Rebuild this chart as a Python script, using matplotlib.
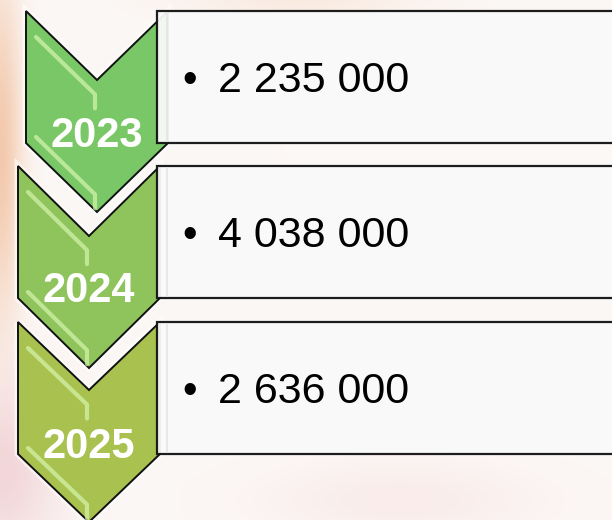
"""Vertical chevron list: yearly totals."""

import numpy as np
import matplotlib.pyplot as plt
from matplotlib.patches import Polygon, Rectangle

# Data
years = ["2023", "2024", "2025"]
values = ["2 235 000", "4 038 000", "2 636 000"]
chevron_colors = ["#79C766", "#8EC45B", "#A9C14E"]

W, H = 612, 520

fig = plt.figure(figsize=(W / 100, H / 100), dpi=100)
ax = fig.add_axes([0, 0, 1, 1])
ax.set_xlim(0, W)
ax.set_ylim(H, 0)
ax.axis("off")

# Soft pink / peach background
yy, xx = np.mgrid[0:H, 0:W]
bg = np.ones((H, W, 3)) * np.array([252, 248, 246]) / 255.0


def blob(cx, cy, sx, sy, color, strength):
    """Blend a soft coloured blob into the background"""
    w = strength * np.exp(-(((xx - cx) / sx) ** 2 + ((yy - cy) / sy) ** 2))
    return w[..., None] * (np.array(color) / 255.0 - bg)


bg += blob(0, 150, 22, 170, (242, 196, 165), 0.9)
bg += blob(0, 470, 60, 90, (238, 200, 205), 0.7)
bg += blob(300, 0, 120, 18, (248, 222, 205), 0.5)
bg += blob(400, 500, 140, 40, (245, 218, 218), 0.4)
ax.imshow(np.clip(bg, 0, 1), extent=(0, W, H, 0), zorder=0, aspect="auto")

# Chevron geometry (left, top) for each item
lefts = [26, 18, 18]
tops = [11, 166, 322]
depths = [69, 70, 68]
cw = 142   # chevron width
ch = 132   # left edge height
rect_x = 157

for i in range(len(years)):
    L, T, D = lefts[i], tops[i], depths[i]
    cx = L + cw / 2
    pts = [(L, T), (cx, T + D), (L + cw, T), (L + cw, T + ch),
           (cx, T + ch + D), (L, T + ch)]
    z = 10 - i
    # faint white glow behind the shape
    ax.add_patch(Polygon(pts, closed=True, facecolor="none", edgecolor="white",
                         linewidth=5, alpha=0.6, zorder=z - 0.5))
    ax.add_patch(Polygon(pts, closed=True, facecolor=chevron_colors[i],
                         edgecolor="#111111", linewidth=1.4, zorder=z))
    # glossy bevel highlights along the upper-left diagonals
    for dy in (26, ch - 6):
        x0, y0 = L + 10, T + dy
        x1 = cx - 2
        y1 = y0 + (x1 - x0) * D / (cw / 2)
        ax.plot([x0, x1, x1], [y0, y1, y1 + 14],
                color="#D6F5AE", linewidth=3, alpha=0.7,
                solid_capstyle="round", solid_joinstyle="round", zorder=z + 0.1)
    ax.text(cx, T + ch + 4, years[i], color="white", fontsize=30,
            fontweight="bold", family="Liberation Sans", ha="center",
            va="baseline", zorder=z + 0.2)

# Text boxes on top of the chevrons
rect_tops = [11, 166, 322]
rect_h = 132
for i in range(len(values)):
    T = rect_tops[i]
    ax.add_patch(Rectangle((rect_x, T), W - rect_x + 10, rect_h,
                           facecolor="#FAFAFA", edgecolor="#111111",
                           linewidth=1.6, alpha=0.95, zorder=20))
    ax.plot([rect_x + 10, rect_x + 10], [T + 2, T + rect_h - 2],
            color="#E2E6E2", linewidth=1.2, zorder=21)
    base = T + 81
    ax.text(190, base, "\u2022", fontsize=30, family="Liberation Sans",
            ha="center", va="baseline", color="black", zorder=22)
    ax.text(218, base, values[i], fontsize=31, family="Liberation Sans",
            ha="left", va="baseline", color="black", zorder=22)

fig.savefig("out.png", dpi=100)
